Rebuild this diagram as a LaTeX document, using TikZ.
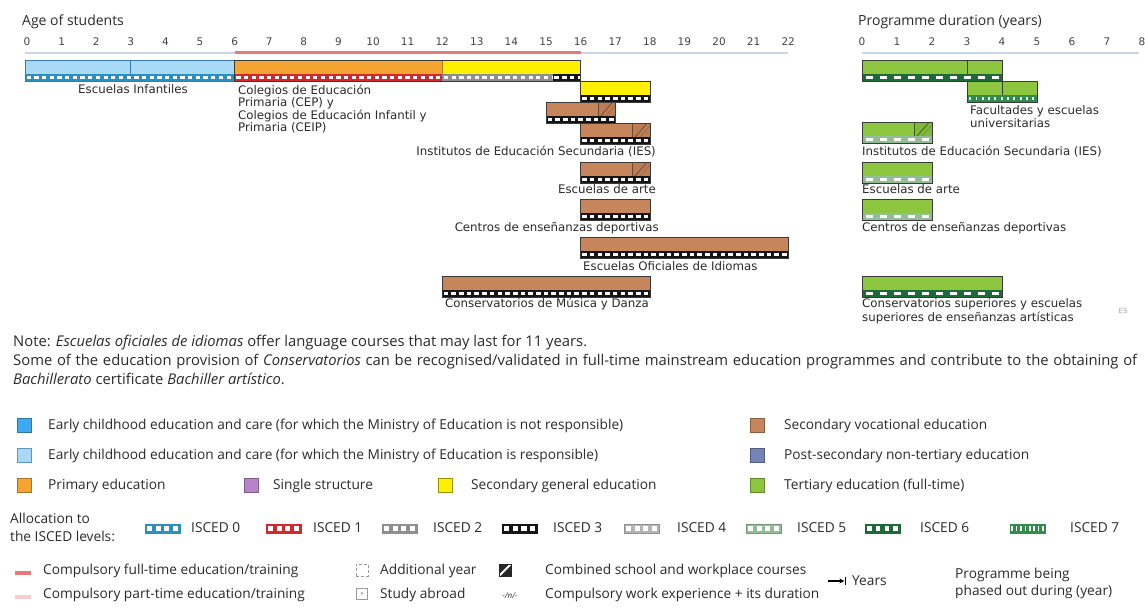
\documentclass[tikz,border=0pt]{standalone}
\usepackage{fontspec}
\setmainfont{Open Sans}
\newfontfamily\labfont{DejaVu Sans}
\usetikzlibrary{arrows.meta}

\definecolor{txt}{HTML}{2B2B2B}
\definecolor{tickgray}{HTML}{444444}
\definecolor{framegray}{HTML}{3A3A3A}
\definecolor{axisblue}{HTML}{C7D4EA}
\definecolor{compred}{HTML}{E97A7C}
\definecolor{comppink}{HTML}{F7CBD0}
\definecolor{ecec}{HTML}{A8DAF6}
\definecolor{ececdark}{HTML}{3FA9F0}
\definecolor{ececline}{HTML}{3A78B0}
\definecolor{primary}{HTML}{F4A531}
\definecolor{single}{HTML}{B784C9}
\definecolor{secgen}{HTML}{FFF000}
\definecolor{secvoc}{HTML}{C6855A}
\definecolor{postsec}{HTML}{7584B8}
\definecolor{tertiary}{HTML}{8CC63F}
\definecolor{iscedzero}{HTML}{2B8FC2}
\definecolor{iscedone}{HTML}{D3282E}
\definecolor{iscedtwo}{HTML}{8E8E8E}
\definecolor{iscedthree}{HTML}{151515}
\definecolor{iscedfour}{HTML}{B4B4B4}
\definecolor{iscedfive}{HTML}{93BE95}
\definecolor{iscedsix}{HTML}{1D6A38}
\definecolor{iscedseven}{HTML}{2F8F4A}

% film strip: x1, x2, top, height, colour, window period, window fraction
\newcommand\film[7]{%
  \begin{scope}
    \clip (#1,#3) rectangle (#2,#3+#4);
    \fill[#5] (#1,#3) rectangle (#2,#3+#4);
    \pgfmathtruncatemacro\filmn{ceil((#2-#1)/(#6))}
    \foreach \k in {0,...,\filmn}{%
      \fill[white] ({#1+(\k+0.5-#7/2)*(#6)},{#3+0.22*#4}) rectangle ({#1+(\k+0.5+#7/2)*(#6)},{#3+0.78*#4});
    }
  \end{scope}}

% programme bar: x1, x2, top, fill colour, strip colour, period, window fraction
\newcommand\programme[7]{%
  \fill[#4] (#1,#3) rectangle (#2,#3+14);
  \film{#1}{#2}{#3+14}{7}{#5}{#6}{#7}%
  \draw[frame] (#1,#3) rectangle (#2,#3+21);}

% combined school and workplace part: x1, x2, top, line colour
\newcommand\combined[4]{%
  \fill[#4, opacity=0.12] (#1,#3) rectangle (#2,#3+14);
  \draw[#4, line width=0.8pt] (#1,#3) -- (#1,#3+14);
  \draw[#4, line width=0.7pt] ({#1+0.15*(#2-#1)},#3+14) -- ({#1+0.85*(#2-#1)},#3);
  \draw[#4, line width=0.4pt, opacity=0.5] ({#1+0.45*(#2-#1)},#3+14) -- ({#2},{#3+3});}

\tikzset{
  frame/.style={draw=framegray, line width=0.6pt},
  lab/.style={font=\labfont\fontsize{11.8}{13}\selectfont, text=txt, inner sep=0pt},
  tick/.style={font=\labfont\fontsize{10.5}{12}\selectfont, text=tickgray, inner sep=0pt, anchor=base},
  title/.style={font=\fontsize{14}{16}\selectfont, text=txt, inner sep=0pt, anchor=base west},
  legtext/.style={font=\fontsize{13.7}{15}\selectfont, text=txt, inner sep=0pt, anchor=base west},
  notetext/.style={font=\fontsize{14.8}{19}\selectfont, text=txt, inner sep=0pt, anchor=base west},
  swatch/.style={minimum size=14pt, inner sep=0pt, line width=0.9pt},
}

\begin{document}
\begin{tikzpicture}[x=1pt, y=-1pt]
\useasboundingbox[fill=white] (0,0) rectangle (1145,614);

% ---------- age axis ----------
\node[title] (agetitle) at (22,25) {Age of students};
\begin{scope}[shift={(27pt,0pt)}, x=34.6pt, y=-1pt]
  \foreach \a in {0,...,22} \node[tick] (age\a) at (\a,45.9) {\a};
  \coordinate (axL) at (-0.06,53);
  \coordinate (axR) at (22,53);
  \coordinate (cpL) at (6,52);
  \coordinate (cpR) at (16,52);
  \draw[axisblue, line width=2pt] (axL) -- (axR);
  \draw[compred, line width=3pt] (cpL) -- (cpR);

  % row 1: early childhood, primary, lower secondary
  \fill[ecec] (-0.06,60) rectangle (6,74);
  \fill[primary] (6,60) rectangle (12,74);
  \fill[secgen] (12,60) rectangle (16,74);
  \film{-0.06}{6}{74}{7}{iscedzero}{0.2222}{0.55}
  \film{6}{12}{74}{7}{iscedone}{0.2222}{0.55}
  \film{12}{15.2}{74}{7}{iscedtwo}{0.2222}{0.55}
  \film{15.2}{16}{74}{7}{iscedthree}{0.2222}{0.6}
  \draw[ececline, line width=0.7pt] (-0.06,60) rectangle (6,81);
  \draw[ececline, line width=0.7pt] (3,60) -- (3,74);
  \draw[primary!75!black, line width=0.5pt] (12,60) -- (12,74);
  \draw[frame] (6,60) rectangle (16,81);

  % upper secondary and other programmes
  \programme{16}{18}{81}{secgen}{iscedthree}{0.2222}{0.6}
  \programme{15}{17}{102}{secvoc}{iscedthree}{0.2222}{0.6}
  \combined{16.5}{17}{102}{secvoc!55!black}
  \programme{16}{18}{123}{secvoc}{iscedthree}{0.2222}{0.6}
  \combined{17.5}{18}{123}{secvoc!55!black}
  \programme{16}{18}{162}{secvoc}{iscedthree}{0.2222}{0.6}
  \combined{17.5}{18}{162}{secvoc!55!black}
  \programme{16}{18}{199}{secvoc}{iscedthree}{0.2222}{0.6}
  \programme{16}{22}{237}{secvoc}{iscedthree}{0.2222}{0.6}
  \programme{12}{18}{276}{secvoc}{iscedthree}{0.2222}{0.6}
\end{scope}

\node[lab, anchor=base] (infantiles) at (133,93.5) {Escuelas Infantiles};
\node[lab, anchor=north west, align=left, font=\labfont\fontsize{11.8}{12.5}\selectfont] (colegios) at (238,84.5)
  {Colegios de Educación\\Primaria (CEP) y\\Colegios de Educación Infantil y\\Primaria (CEIP)};
\node[lab, anchor=base east] (iesL) at (656,155.5) {Institutos de Educación Secundaria (IES)};
\node[lab, anchor=base east] (arteL) at (656,193.5) {Escuelas de arte};
\node[lab, anchor=base east] (centrosL) at (659,231) {Centros de enseñanzas deportivas};
\node[lab, anchor=base west] (idiomas) at (583,270.5) {Escuelas Oficiales de Idiomas};
\node[lab, anchor=base west] (musica) at (445,307.5) {Conservatorios de Música y Danza};

% ---------- programme duration axis ----------
\node[title] (durtitle) at (858,25) {Programme duration (years)};
\begin{scope}[shift={(862pt,0pt)}, x=35pt, y=-1pt]
  \foreach \d in {0,...,8} \node[tick] (dur\d) at (\d,45.9) {\d};
  \coordinate (dxL) at (0,53);
  \coordinate (dxR) at (7.9,53);
  \draw[axisblue, line width=2pt] (dxL) -- (dxR);

  \programme{0}{4}{60}{tertiary}{iscedsix}{0.4}{0.5}
  \draw[frame] (3,60) -- (3,74);
  \programme{3}{5}{81}{tertiary}{iscedseven}{0.18}{0.3}
  \draw[frame] (4,81) -- (4,95);
  \programme{0}{2}{122}{tertiary}{iscedfive}{0.4}{0.5}
  \combined{1.5}{2}{122}{tertiary!45!black}
  \programme{0}{2}{162}{tertiary}{iscedfive}{0.4}{0.5}
  \programme{0}{2}{199}{tertiary}{iscedfive}{0.4}{0.5}
  \programme{0}{4}{276}{tertiary}{iscedsix}{0.4}{0.5}
\end{scope}

\node[lab, anchor=north west, align=left, font=\labfont\fontsize{11.8}{13}\selectfont] (facultades) at (970,105.5)
  {Facultades y escuelas\\universitarias};
\node[lab, anchor=base west] (iesR) at (862,155.5) {Institutos de Educación Secundaria (IES)};
\node[lab, anchor=base west] (arteR) at (862,193.5) {Escuelas de arte};
\node[lab, anchor=base west] (centrosR) at (862,231) {Centros de enseñanzas deportivas};
\node[lab, anchor=north west, align=left, font=\labfont\fontsize{11.8}{13.5}\selectfont] (superiores) at (862,298.5)
  {Conservatorios superiores y escuelas\\superiores de enseñanzas artísticas};
\node[inner sep=0pt, font=\labfont\fontsize{7}{8}\selectfont, text=black!35] (country) at (1123,311) {ES};

% ---------- notes ----------
\node[notetext] (note1) at (13,346)
  {Note: \textit{Escuelas oficiales de idiomas} offer language courses that may last for 11 years.};
\node[notetext] (note2) at (13,365)
  {\makebox[1124pt][s]{Some of the education provision of \textit{Conservatorios} can be recognised/validated in full-time mainstream education programmes and contribute to the obtaining of}};
\node[notetext] (note3) at (13,384)
  {\textit{Bachillerato} certificate \textit{Bachiller artístico}.};

% ---------- legend: levels of education ----------
\node[swatch, fill=ececdark, draw=ececdark!70!black] (swA) at (24,425) {};
\node[legtext] (ltA) at (48,429.5) {Early childhood education and care (for which the Ministry of Education is not responsible)};
\node[swatch, fill=ecec, draw=ececline!80] (swB) at (24,455) {};
\node[legtext] (ltB) at (48,459.5) {Early childhood education and care (for which the Ministry of Education is responsible)};
\node[swatch, fill=primary, draw=primary!70!black] (swC) at (24,485) {};
\node[legtext] (ltC) at (48,489.5) {Primary education};
\node[swatch, fill=single, draw=single!70!black] (swD) at (251,485) {};
\node[legtext] (ltD) at (273,489.5) {Single structure};
\node[swatch, fill=secgen, draw=secgen!60!black] (swE) at (445,485) {};
\node[legtext] (ltE) at (471,489.5) {Secondary general education};
\node[swatch, fill=secvoc, draw=secvoc!70!black] (swF) at (757,425) {};
\node[legtext] (ltF) at (784,429.5) {Secondary vocational education};
\node[swatch, fill=postsec, draw=postsec!70!black] (swG) at (757,455) {};
\node[legtext] (ltG) at (784,459.5) {Post-secondary non-tertiary education};
\node[swatch, fill=tertiary, draw=tertiary!70!black] (swH) at (757,485) {};
\node[legtext] (ltH) at (784,489.5) {Tertiary education (full-time)};

% ---------- legend: ISCED levels ----------
\node[legtext] (alloc1) at (10,523.5) {Allocation to};
\node[legtext] (alloc2) at (10,541.5) {the ISCED levels:};
\film{145}{180}{524}{9}{iscedzero}{8.75}{0.55}
\draw[iscedzero, line width=0.6pt] (145,524) rectangle (180,533);
\node[legtext] (isA) at (191,532.5) {ISCED 0};
\film{266}{301}{524}{9}{iscedone}{8.75}{0.55}
\draw[iscedone, line width=0.6pt] (266,524) rectangle (301,533);
\node[legtext] (isB) at (313,532.5) {ISCED 1};
\film{382}{417}{524}{9}{iscedtwo}{8.75}{0.55}
\draw[iscedtwo, line width=0.6pt] (382,524) rectangle (417,533);
\node[legtext] (isC) at (433,532.5) {ISCED 2};
\film{502}{537}{524}{9}{iscedthree}{8.75}{0.6}
\draw[iscedthree, line width=0.6pt] (502,524) rectangle (537,533);
\node[legtext] (isD) at (553,532.5) {ISCED 3};
\film{624}{659}{524}{9}{iscedfour}{8.75}{0.55}
\draw[iscedfour!80!black, line width=0.6pt] (624,524) rectangle (659,533);
\node[legtext] (isE) at (677,532.5) {ISCED 4};
\film{746}{781}{524}{9}{iscedfive}{8.75}{0.55}
\draw[iscedfive!80!black, line width=0.6pt] (746,524) rectangle (781,533);
\node[legtext] (isF) at (797,532.5) {ISCED 5};
\film{865}{900}{524}{9}{iscedsix}{8.75}{0.5}
\draw[iscedsix, line width=0.6pt] (865,524) rectangle (900,533);
\node[legtext] (isG) at (920,532.5) {ISCED 6};
\film{1010}{1045}{524}{9}{iscedseven}{4.4}{0.35}
\draw[iscedseven, line width=0.6pt] (1010,524) rectangle (1045,533);
\node[legtext] (isH) at (1070,532.5) {ISCED 7};

% ---------- legend: other symbols ----------
\node[fill=compred, minimum width=16pt, minimum height=4pt, inner sep=0pt] (fulltime) at (23,573) {};
\node[legtext] (ftText) at (43,574.5) {Compulsory full-time education/training};
\node[fill=comppink, minimum width=16pt, minimum height=4pt, inner sep=0pt] (parttime) at (23,597) {};
\node[legtext] (ptText) at (43,598.5) {Compulsory part-time education/training};

\node[draw=black!40, densely dashed, minimum size=12pt, inner sep=0pt, line width=0.5pt] (addyear) at (362,570) {};
\node[legtext] (ayText) at (380,574.5) {Additional year};
\node[draw=black!40, minimum size=11pt, inner sep=0pt, line width=0.5pt,
      font=\fontsize{7}{7}\selectfont, text=black!50] (abroad) at (362,594) {»};
\node[legtext] (saText) at (380,598.5) {Study abroad};

\node[draw=black!85, fill=black!85, minimum size=12pt, inner sep=0pt, line width=0.8pt,
      path picture={\draw[white, line width=2pt] (path picture bounding box.south west) -- (path picture bounding box.north east);}] (combkey) at (505,570) {};
\node[legtext] (cbText) at (545,574.5) {Combined school and workplace courses};
\node[inner sep=0pt, anchor=base, font=\fontsize{8}{8}\selectfont\itshape, text=txt] (workexp) at (510,598) {-/n/-};
\node[legtext] (weText) at (545,598.5) {Compulsory work experience + its duration};

\coordinate (phaseStart) at (828,581);
\node[fill=black, minimum width=1.8pt, minimum height=8pt, inner sep=0pt] (phaseBar) at (845.5,581) {};
\draw[-{Stealth[length=5pt,width=5pt]}, line width=1.1pt] (phaseStart) -- (phaseBar.west);
\node[legtext] (yearsText) at (852,585.5) {Years};
\node[legtext] (phase1) at (955,578.5) {Programme being};
\node[legtext] (phase2) at (955,595.5) {phased out during (year)};
\end{tikzpicture}
\end{document}
